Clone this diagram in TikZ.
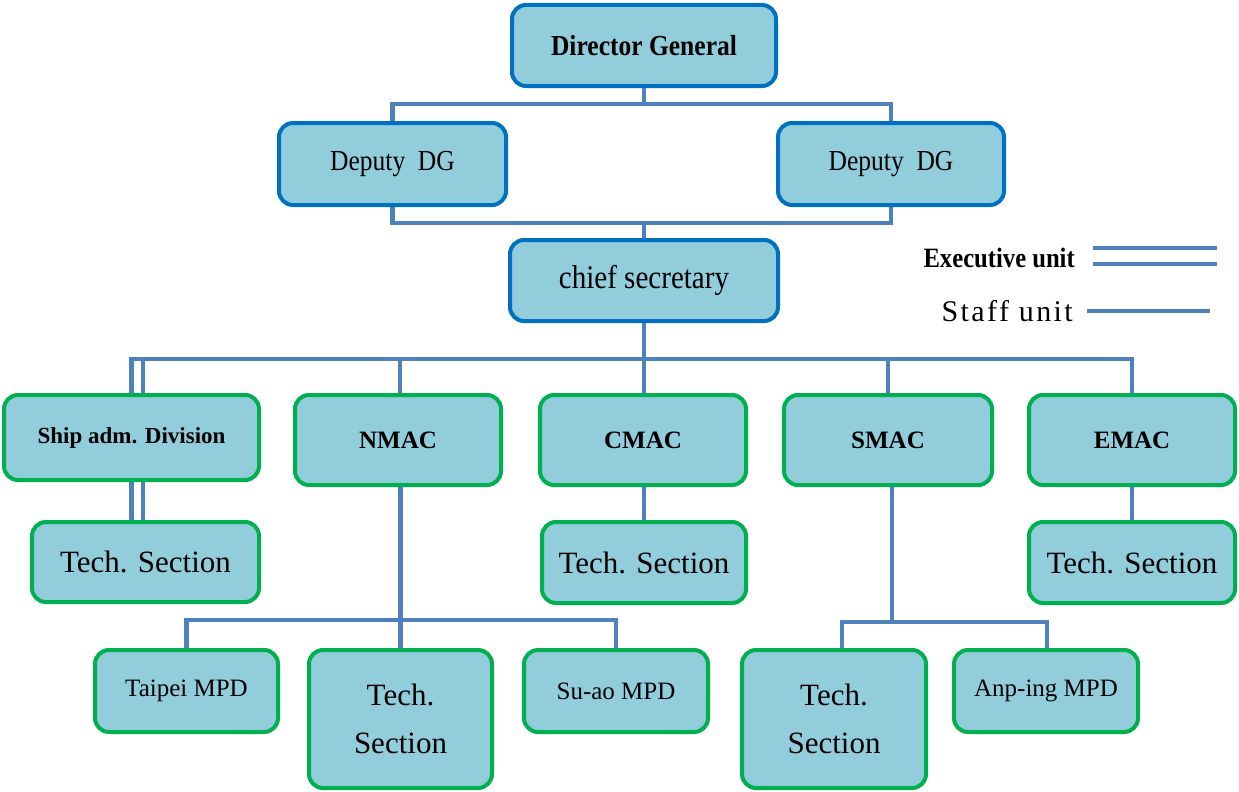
\documentclass[tikz,border=0pt]{standalone}
\usepackage{fontspec}
\setmainfont{Liberation Serif}
\newfontfamily\condfont{Liberation Serif}[FakeStretch=0.88]
\newfontfamily\widefont{Liberation Serif}[LetterSpace=8]
\usetikzlibrary{backgrounds}
\definecolor{boxfill}{HTML}{92CDDC}
\definecolor{topline}{HTML}{0070C0}
\definecolor{unitline}{HTML}{00B050}
\definecolor{connc}{HTML}{4F81BD}
\newcommand\fs[2]{\fontsize{#1}{#2}\selectfont}
\tikzset{
  box/.style={draw, fill=boxfill, rounded corners=14pt, line width=4pt, inner sep=0pt, align=center, text=black},
  topbox/.style={box, draw=topline},
  unitbox/.style={box, draw=unitline},
  link/.style={draw=connc, line width=4.5pt},
}
\begin{document}
\begin{tikzpicture}[x=1pt, y=-1pt]
\useasboundingbox (0,0) rectangle (1239,792);
% top level
\node[topbox, minimum width=264pt, minimum height=81pt, font=\condfont\bfseries\fs{29}{34}] (dg) at (644,45.5) {Director General};
\node[topbox, minimum width=227pt, minimum height=82pt, font=\condfont\fs{29}{34}] (depL) at (392.5,164) {Deputy\ \ DG};
\node[topbox, minimum width=226pt, minimum height=82pt, font=\condfont\fs{29}{34}] (depR) at (891,164) {Deputy\ \ DG};
\node[topbox, minimum width=268pt, minimum height=81pt, font=\condfont\fs{33}{38}] (chief) at (644,280.5) {chief secretary};
% units
\node[unitbox, minimum width=255pt, minimum height=85pt, font=\bfseries\fs{23}{27}] (ship) at (131.5,437.5) {Ship adm. Division};
\node[unitbox, minimum width=206pt, minimum height=90pt, font=\bfseries\fs{25}{30}] (nmac) at (398,440) {NMAC};
\node[unitbox, minimum width=206pt, minimum height=90pt, font=\bfseries\fs{25}{30}] (cmac) at (643,440) {CMAC};
\node[unitbox, minimum width=208pt, minimum height=90pt, font=\bfseries\fs{25}{30}] (smac) at (888,440) {SMAC};
\node[unitbox, minimum width=206pt, minimum height=90pt, font=\bfseries\fs{25}{30}] (emac) at (1132,440) {EMAC};
% tech sections
\node[unitbox, minimum width=227pt, minimum height=80pt, font=\fs{31}{36}] (techship) at (145.5,562) {Tech. Section};
\node[unitbox, minimum width=204pt, minimum height=81pt, font=\fs{31}{36}] (techc) at (644,562.5) {Tech. Section};
\node[unitbox, minimum width=206pt, minimum height=81pt, font=\fs{31}{36}] (teche) at (1132,562.5) {Tech. Section};
% bottom row
\node[unitbox, minimum width=183pt, minimum height=82pt, font=\fs{25}{30}] (taipei) at (186.5,691) {Taipei MPD};
\node[unitbox, minimum width=183pt, minimum height=138pt, font=\fs{31}{48}] (techn) at (400.5,719) {Tech.\\Section};
\node[unitbox, minimum width=184pt, minimum height=82pt, font=\fs{25}{30}] (suao) at (616,691) {Su-ao MPD};
\node[unitbox, minimum width=184pt, minimum height=138pt, font=\fs{31}{48}] (techs) at (834,719) {Tech.\\Section};
\node[unitbox, minimum width=184pt, minimum height=82pt, font=\fs{25}{30}] (anping) at (1046,691) {Anp-ing MPD};
% legend
\node[font=\condfont\bfseries\fs{28}{32}, anchor=east, inner sep=0pt] (exe) at (1075,258) {Executive unit};
\node[font=\widefont\fs{30}{34}, anchor=east, inner sep=0pt] (staff) at (1073,311) {Staff unit};
\coordinate (ea1) at (1093,248); \coordinate (eb1) at (1217,248);
\coordinate (ea2) at (1093,264); \coordinate (eb2) at (1217,264);
\coordinate (sa) at (1087,311); \coordinate (sb) at (1210,311);
\draw[link] (ea1) -- (eb1);
\draw[link] (ea2) -- (eb2);
\draw[link] (sa) -- (sb);
% connectors
\begin{scope}[on background layer]
\draw[link] (dg.south) -- ++(0,16) coordinate (j1);
\draw[link] (depL.north) |- (j1) -| (depR.north);
\draw[link] (depL.south) -- ++(0,16) coordinate (j2) -| (depR.south);
\draw[link] (chief.north) -- (chief.north |- j2);
\draw[link] (chief.south) -- ++(0,36) coordinate (j3);
\draw[link] (ship.north) |- (j3) -| (emac.north);
\draw[link] ([xshift=11.5pt]ship.north) -- ([xshift=11.5pt]ship.north |- j3);
\draw[link] ([xshift=2pt]nmac.north) -- ([xshift=2pt]nmac.north |- j3);
\draw[link] ([xshift=1pt]cmac.north) -- ([xshift=1pt]cmac.north |- j3);
\draw[link] (smac.north) -- (smac.north |- j3);
\draw[link] (ship.south) -- (ship.south |- techship.north);
\draw[link] ([xshift=11.5pt]ship.south) -- ([xshift=11.5pt]ship.south |- techship.north);
\draw[link] (techc.north) -- (techc.north |- cmac.south);
\draw[link] (teche.north) -- (teche.north |- emac.south);
% NMAC branch
\draw[link] (techn.north) -- (techn.north |- nmac.south);
\draw[link] (techn.north) ++(0,-28) coordinate (j4);
\draw[link] (taipei.north) |- (j4) -| (suao.north);
% SMAC branch
\draw[link] ([xshift=4pt]smac.south) -- ++(0,135) coordinate (j5);
\draw[link] ([xshift=8pt]techs.north) |- (j5) -| ([xshift=1pt]anping.north);
\end{scope}
\end{tikzpicture}
\end{document}
